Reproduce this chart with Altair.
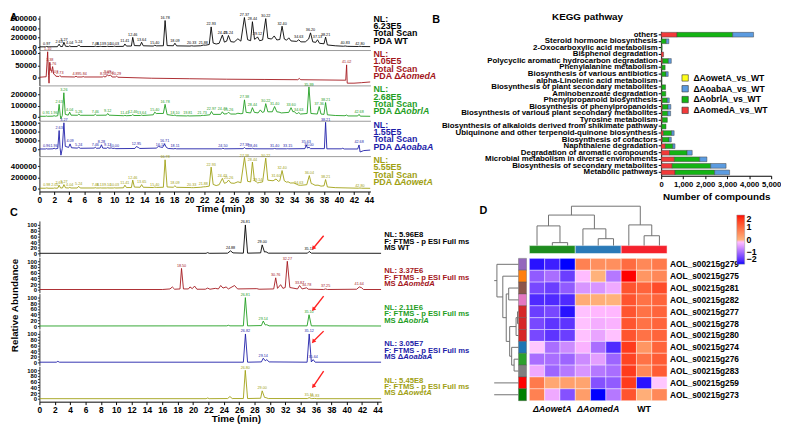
import altair as alt
import pandas as pd

FONT = "Liberation Sans"

# ---------------- strains ----------------
STRAIN_COLORS = ["#000000", "#a3161b", "#1f9e1f", "#1c1ca8", "#a0a012"]
STRAIN_GENES = [None, "AomedA", "AobrlA", "AoabaA", "AowetA"]

# ---------------- Panel A: PDA total scan, (time min, intensity in thousands) ----------------
A_WT = [(0,5),(0.8,6),(0.97,14),(1.15,6),(2.4,8),(2.63,62),(2.82,12),(3.08,12),(3.27,102),(3.48,18),(3.88,12),(4.04,26),(4.22,12),(5.05,12),(5.24,46),(5.45,12),(7.3,12),(7.46,20),(7.62,12),(7.98,12),(8.13,16),(8.3,12),(8.95,12),(9.10,17),(9.3,12),(9.88,13),(10.03,19),(10.2,13),(11.22,15),(11.41,66),(11.62,22),(12.28,22),(12.46,205),(12.68,32),(13.45,28),(13.64,102),(13.86,28),(15.2,22),(15.40,38),(15.62,26),(16.55,28),(16.78,560),(17.05,32),(17.88,28),(18.09,82),(18.32,26),(20.1,22),(20.33,28),(20.6,22),(21.55,28),(21.88,42),(22.2,40),(22.68,55),(22.93,425),(23.2,85),(23.6,65),(24.0,80),(24.43,255),(24.7,105),(25.0,125),(25.24,245),(25.55,115),(26.0,105),(26.5,175),(26.9,125),(27.37,623),(27.8,155),(28.2,135),(28.44,535),(28.72,165),(28.95,185),(29.12,215),(29.4,135),(29.8,150),(30.22,600),(30.5,185),(31.0,170),(31.35,235),(31.7,150),(32.1,160),(32.40,440),(32.7,170),(33.0,145),(33.3,195),(33.6,130),(34.35,120),(34.63,155),(34.9,110),(35.5,110),(35.95,170),(36.20,300),(36.5,110),(36.9,100),(37.13,155),(37.4,80),(38.0,70),(38.21,210),(38.45,45),(39.5,28),(40.6,18),(40.83,24),(41.1,16),(42.6,12),(42.80,17),(43.0,12),(44.2,10)]
A_MED = [(0,2),(0.9,4),(1.10,105),(1.22,10),(1.28,-22),(1.38,62),(1.5,30),(1.62,25),(1.76,45),(1.9,15),(2.03,13),(2.2,6),(2.6,5),(2.73,9),(2.9,4),(4.7,3),(4.89,6),(5.05,3),(5.7,3),(5.84,5),(6.0,3),(8.4,3),(8.56,6),(8.75,3),(8.95,6),(9.09,12),(9.25,8),(9.5,11),(9.7,3),(10.15,3),(10.29,7),(10.45,2),(15,-2),(20,-4),(25,-6),(30,-7),(34.5,-8),(34.7,-3),(34.9,-8),(38,-9),(40.9,-10),(41.02,52),(41.1,-22),(42,-22),(43,-20),(44.2,-17)]
A_BRL = [(0,5),(0.8,5),(0.91,8),(1.05,5),(1.8,6),(1.96,10),(2.15,6),(2.45,10),(2.63,112),(2.78,15),(2.86,-18),(3.05,12),(3.26,215),(3.45,22),(3.85,15),(4.04,42),(4.22,15),(5.08,14),(5.26,24),(5.45,14),(7.3,14),(7.46,24),(7.62,14),(8.95,15),(9.12,30),(9.3,15),(11.25,10),(11.41,13),(11.6,10),(12.3,12),(12.46,20),(12.62,12),(13.5,12),(13.64,16),(13.8,12),(15.2,18),(15.40,42),(15.6,30),(16.55,30),(16.78,112),(17.05,20),(17.9,12),(18.10,16),(18.3,10),(19.65,8),(19.81,10),(20.0,8),(21.55,10),(21.73,13),(21.9,12),(22.75,18),(22.97,48),(23.2,22),(24.2,22),(24.43,45),(24.65,25),(25.05,28),(25.26,42),(25.5,25),(26.2,25),(26.5,32),(26.9,28),(27.15,30),(27.38,152),(27.6,40),(28.2,35),(28.44,82),(28.7,40),(29.2,35),(29.5,62),(29.75,40),(30.0,45),(30.22,118),(30.5,45),(31.1,45),(31.40,92),(31.7,45),(32.0,42),(32.3,35),(33.3,40),(33.60,82),(33.85,45),(34.0,48),(34.3,30),(34.45,30),(34.63,38),(34.85,25),(35.75,30),(35.99,268),(36.25,30),(37.1,25),(37.36,92),(37.6,25),(38.0,22),(38.21,128),(38.45,18),(39.5,12),(40.8,10),(41.0,16),(41.2,8),(42.5,8),(42.68,22),(42.85,6),(44.2,5)]
A_ABA = [(0,3),(0.8,3),(0.96,5),(1.1,3),(1.8,4),(1.96,7),(2.15,4),(2.45,6),(2.63,108),(2.75,12),(2.87,-32),(3.05,6),(3.27,152),(3.45,18),(3.9,12),(4.09,32),(4.28,10),(5.05,8),(5.24,13),(5.45,7),(7.3,8),(7.46,13),(7.62,7),(8.1,8),(8.28,27),(8.45,8),(8.95,7),(9.12,12),(9.3,7),(9.6,9),(9.8,6),(10.0,7),(10.2,5),(12.75,6),(12.95,17),(13.19,12),(13.4,6),(15.6,8),(15.9,18),(16.17,14),(16.45,12),(16.71,32),(16.95,12),(17.2,6),(17.95,4),(18.11,6),(18.3,4),(24.3,4),(24.50,7),(24.7,4),(27.2,5),(27.38,11),(27.55,5),(28.3,5),(28.46,7),(28.65,4),(31.2,4),(31.4,6),(31.6,4),(33.0,4),(33.15,5),(33.3,4),(35.45,5),(35.63,26),(35.8,8),(36.0,13),(36.2,5),(38.05,5),(38.21,155),(38.38,4),(40.3,4),(40.5,7),(40.7,3),(42.5,3),(42.68,26),(42.82,-14),(43.3,-6),(44.2,-3)]
A_WET = [(0,8),(0.8,8),(0.98,13),(1.15,8),(1.9,8),(2.05,13),(2.2,8),(2.45,10),(2.63,62),(2.82,12),(3.08,12),(3.27,72),(3.48,15),(3.88,12),(4.04,22),(4.22,12),(5.05,12),(5.24,42),(5.45,12),(7.3,12),(7.46,17),(7.62,12),(7.98,12),(8.13,14),(8.3,12),(8.95,12),(9.10,14),(9.3,12),(9.88,12),(10.03,16),(10.2,12),(11.22,15),(11.41,62),(11.62,20),(12.28,20),(12.46,152),(12.68,28),(13.45,25),(13.65,72),(13.86,25),(15.2,20),(15.40,28),(15.62,22),(16.55,25),(16.78,512),(17.05,30),(17.88,25),(18.09,52),(18.32,24),(20.1,20),(20.33,18),(20.6,18),(21.55,25),(21.88,32),(22.2,35),(22.68,45),(22.93,382),(23.2,75),(23.6,55),(24.0,70),(24.43,182),(24.7,95),(25.0,110),(25.26,152),(25.55,100),(26.0,95),(26.5,122),(26.9,105),(27.38,555),(27.8,130),(28.2,120),(28.44,472),(28.72,140),(28.95,125),(29.14,102),(29.4,110),(29.8,120),(30.22,542),(30.5,150),(31.2,140),(31.60,172),(31.9,130),(32.1,140),(32.40,322),(32.7,140),(33.0,115),(33.2,122),(33.5,100),(34.0,102),(34.3,80),(34.63,62),(34.9,60),(35.7,70),(36.04,232),(36.3,90),(36.51,82),(36.8,60),(37.2,62),(37.6,45),(38.0,50),(38.21,162),(38.45,30),(39.5,18),(42.6,8),(42.80,12),(43.0,8),(44.2,6)]

A_WT_PEAKS = [0.97,2.63,3.27,4.04,5.24,7.46,8.13,9.10,10.03,11.41,12.46,13.64,15.40,16.78,18.09,20.33,21.88,22.93,24.43,25.24,27.37,28.44,29.12,30.22,32.40,34.63,36.20,37.13,38.21,40.83,42.80]
A_MED_PEAKS = [1.10,1.38,1.76,2.03,2.73,4.89,5.84,8.56,9.09,9.5,10.29,41.02]
A_BRL_PEAKS = [0.91,1.96,2.63,3.26,4.04,5.26,7.46,9.12,11.41,12.46,13.64,15.40,16.78,18.10,19.81,21.73,22.97,24.43,25.26,27.38,28.44,30.22,31.40,33.60,34.63,35.99,37.36,38.21,42.68]
A_ABA_PEAKS = [0.96,1.96,2.63,3.27,4.09,5.24,7.46,8.28,9.12,10.0,12.95,16.17,16.71,18.11,24.50,27.38,28.46,31.4,33.15,35.63,36.0,38.21,42.68]
A_WET_PEAKS = [0.98,2.05,2.63,3.27,4.04,5.24,7.46,8.13,9.10,10.03,11.41,12.46,13.65,15.40,16.78,18.09,20.33,21.88,22.93,24.43,25.26,27.38,28.44,29.14,30.22,31.60,32.40,34.63,36.04,38.21,42.80]

A_NL = ["6.23E5", "1.05E5", "2.68E5", "1.55E5", "5.55E5"]
A_YDOM = [(-62, 662), (-31, 108), (-35, 272), (-37.5, 158), (-50, 560)]
A_YTICKS = [[0, 200, 400, 600], [0, 50, 100], [0, 100, 200], [0, 50, 100, 150], [0, 200, 400]]

# ---------------- Panel C: extracted ion chromatograms (relative abundance %) ----------------
C_WT = [(0,0.5),(21.7,0.5),(21.9,3),(22.1,0.5),(24.5,1),(24.88,9),(25.2,2),(26.55,1),(26.81,100),(27.1,1),(28.8,2),(29.00,30),(29.3,5),(29.5,6),(29.8,1),(34.9,1),(35.12,7),(35.4,1),(44.5,0.5)]
C_MED = [(0,1),(16,1),(17.0,3),(17.3,10),(17.6,2),(18.3,3),(18.50,75),(18.75,3),(19.4,3),(19.6,10),(19.9,4),(20.2,13),(20.5,2),(21.6,2),(21.9,6),(22.2,2),(22.9,5),(23.3,3),(23.6,15),(23.9,6),(24.3,10),(24.6,3),(25.4,15),(25.8,3),(28.3,4),(28.6,2),(30.5,3),(30.76,42),(31.0,5),(31.4,18),(31.7,5),(32.0,8),(32.27,100),(32.6,8),(33.6,3),(33.87,15),(34.2,3),(34.78,7),(35.0,2),(37.0,1),(37.25,3),(37.5,1),(41.3,2),(41.64,10),(41.9,8),(42.2,1),(44.5,1)]
C_BRL = [(0,0.5),(24.4,1),(24.6,3),(24.8,1),(26.55,1),(26.81,100),(27.1,1),(28.9,2),(29.14,18),(29.4,4),(29.6,5),(29.9,1),(34.85,1),(35.10,40),(35.4,1),(44.5,0.5)]
C_ABA = [(0,1),(2.2,1),(2.4,4),(2.6,1),(26.55,1),(26.82,100),(27.1,1),(28.9,2),(29.14,15),(29.4,6),(29.6,10),(29.9,2),(34.85,1),(35.12,100),(35.4,2),(35.64,10),(35.9,1),(44.5,1)]
C_WET = [(0,0.5),(21.7,0.5),(21.9,3),(22.1,0.5),(24.5,1),(24.8,8),(25.1,1),(26.55,1),(26.80,100),(27.1,1),(28.8,2),(29.00,28),(29.3,5),(29.5,4),(29.8,1),(34.9,1),(35.11,4),(35.4,1),(35.6,1),(35.83,1.5),(36.1,0.5),(44.5,0.5)]

C_WT_PEAKS = [24.88, 26.81, 29.00, 35.12]
C_MED_PEAKS = [18.50, 30.76, 32.27, 33.87, 34.78, 37.25, 41.64]
C_BRL_PEAKS = [26.81, 29.14, 35.10]
C_ABA_PEAKS = [26.82, 29.14, 35.12, 35.64]
C_WET_PEAKS = [26.80, 29.00, 35.11, 35.83]

C_NL = ["5.96E8", "3.37E6", "2.11E6", "3.05E7", "5.45E8"]
# red arrows: (row, tail time, tail %, tip time, tip %)
C_ARROWS = [(0, 37.0, 62, 35.7, 20), (2, 37.0, 105, 35.7, 60), (3, 37.0, 110, 35.7, 75), (4, 37.0, 97, 35.7, 45)]

# ---------------- Panel B: KEGG pathway counts ----------------
KEGG_CATS = ["others", "Steroid hormone biosynthesis", "2-Oxocarboxylic acid metabolism",
             "Bisphenol degradation", "Polycyclic aromatic hydrocarbon degradation",
             "Phenylalanine metabolism", "Biosynthesis of various antibiotics",
             "alpha-Linolenic acid metabolism", "Biosynthesis of plant secondary metabolites",
             "Aminobenzoate degradation", "Phenylpropanoid biosynthesis",
             "Biosynthesis of phenylpropanoids", "Biosynthesis of various plant secondary metabolites",
             "Tyrosine metabolism", "Biosynthesis of alkaloids derived from shikimate pathway",
             "Ubiquinone and other terpenoid-quinone biosynthesis", "Biosynthesis of cofactors",
             "Naphthalene degradation", "Degradation of aromatic compounds",
             "Microbial metabolism in diverse environments", "Biosynthesis of secondary metabolites",
             "Metabolic pathways"]
KEGG_MED = [720, 0, 0, 110, 70, 30, 20, 0, 20, 20, 50, 60, 50, 50, 20, 100, 60, 190, 380, 600, 500, 630]
KEGG_BRL = [2530, 230, 40, 0, 260, 150, 200, 20, 180, 190, 230, 250, 250, 230, 200, 380, 300, 340, 800, 1150, 1750, 1800]
KEGG_ABA = [950, 120, 0, 0, 130, 0, 100, 0, 0, 0, 90, 130, 130, 0, 0, 110, 100, 100, 230, 330, 700, 680]
KEGG_WET = [0] * 22
KEGG_SERIES = ["ΔAowetA_vs_WT", "ΔAoabaA_vs_WT", "ΔAobrlA_vs_WT", "ΔAomedA_vs_WT"]
KEGG_COLORS = ["#ffff1a", "#5b9be0", "#14b414", "#f23a3a"]

# ---------------- Panel D: heatmap (z-scores) ----------------
HEAT_ROWS = ["AOL_s00215g279", "AOL_s00215g275", "AOL_s00215g281", "AOL_s00215g282",
             "AOL_s00215g277", "AOL_s00215g278", "AOL_s00215g280", "AOL_s00215g274",
             "AOL_s00215g276", "AOL_s00215g283", "AOL_s00215g259", "AOL_s00215g273"]
HEAT_VALS = [
    [-1.9, -1.8, -2.0, 0.7, 0.5, 0.5, 1.0, 0.6, 0.8],
    [-1.2, -1.0, -1.5, -0.2, 0.0, -0.9, 2.0, 0.4, 0.6],
    [-1.4, -1.5, -1.2, -0.6, -0.6, -0.4, 1.3, 1.1, 1.4],
    [-1.7, -1.7, -1.7, 0.1, 0.05, 0.0, 1.3, 0.9, 1.1],
    [-1.5, -1.4, -1.9, -0.15, -0.25, -0.25, 1.3, 0.9, 1.1],
    [-1.4, -1.6, -1.6, -0.15, -0.35, -0.3, 1.3, 0.9, 1.1],
    [-1.4, -1.6, -1.5, -0.15, -0.45, -0.15, 1.3, 0.9, 1.1],
    [-0.1, -1.0, -0.7, -0.3, -1.0, -1.7, 1.6, 0.4, 1.1],
    [-1.0, -1.0, -1.1, -0.7, -0.5, -1.1, 1.5, 0.9, 1.2],
    [-0.4, -1.1, -0.9, -0.6, -0.9, -1.0, 1.6, 0.6, 1.2],
    [0.8, 0.15, 0.25, 0.2, -1.3, -1.2, 1.6, -1.9, -0.1],
    [0.7, -0.4, -1.3, 0.3, -2.1, -0.9, 1.3, 0.05, 0.6],
]
HEAT_GROUPS = [("ΔAowetA", 3, "#1e8c1e"), ("ΔAomedA", 3, "#2a7ab8"), ("WT", 3, "#f5222d")]
ROW_CLUSTER_COLORS = ["#9467bd", "#ff7f0e", "#8c564b", "#e377c2", "#d62728", "#d62728",
                      "#d62728", "#1f77b4", "#2ca02c", "#7f7f7f", "#ff0000", "#008000"]
# linkage (name, child a, child b, distance)
COL_LINKAGE = [("m0", 1, 2, 0.3), ("m1", 0, "m0", 2.0), ("m2", 4, 5, 0.7), ("m3", 3, "m2", 1.7),
               ("m4", "m1", "m3", 3.1), ("m5", 7, 8, 1.0), ("m6", 6, "m5", 2.1), ("m7", "m4", "m6", 4.0)]
ROW_LINKAGE = [("n1", 4, 5, 0.1), ("n2", "n1", 6, 0.25), ("n3", 8, 9, 0.45), ("n4", 7, "n3", 0.7),
               ("n5", "n2", "n4", 0.9), ("n6", 2, 3, 1.0), ("n7", "n6", "n5", 1.25),
               ("n8", 1, "n7", 1.6), ("n9", 0, "n8", 2.2), ("n10", 10, 11, 3.2), ("root", "n9", "n10", 3.8)]

DUMMY = pd.DataFrame({"a": [0]})


def txt(text, x, y, size, color="#000", weight="bold", style="normal", align="left",
        baseline="middle", angle=0):
    return alt.Chart(DUMMY).mark_text(
        align=align, baseline=baseline, fontSize=size, fontWeight=weight, fontStyle=style,
        color=color, font=FONT, angle=angle
    ).encode(x=alt.value(x), y=alt.value(y), text=alt.value(text))


def anchor(px, py):
    # white (invisible on the white page) layout anchor that fixes a column's outer bounds
    return alt.Chart(DUMMY).mark_rule(color="white", strokeWidth=0.5).encode(
        x=alt.value(px), x2=alt.value(px), y=alt.value(py), y2=alt.value(py + 1))


def chrom_row(pairs, peaks, color, mult, ydom, yaxis, xdom, xaxis, extra):
    xs = alt.Scale(domain=list(xdom), nice=False, zero=False)
    ysc = alt.Scale(domain=[ydom[0] * mult, ydom[1] * mult], nice=False, zero=False)
    df = pd.DataFrame({"t": [p[0] for p in pairs], "v": [p[1] * mult for p in pairs]})
    look = {p[0]: p[1] * mult for p in pairs}
    pk = pd.DataFrame({"t": peaks, "v": [min(look[t], ydom[1] * mult * 0.97) for t in peaks],
                       "lab": [f"{t:.2f}" for t in peaks]})
    X = lambda f: alt.X(f, scale=xs, axis=xaxis)
    Y = lambda f: alt.Y(f, scale=ysc, axis=yaxis)
    line = alt.Chart(df).mark_line(color=color, strokeWidth=0.9, clip=True).encode(x=X("t:Q"), y=Y("v:Q"))
    lab = alt.Chart(pk).mark_text(fontSize=3.8, baseline="bottom", dy=-0.5, color=color, font=FONT).encode(
        x=X("t:Q"), y=Y("v:Q"), text="lab:N")
    layers = [line, lab]
    for e in extra:
        layers.append(e(X, Y))
    return layers


def bottom_axis(title_x):
    return alt.Axis(values=list(range(0, 45, 2)), labelFontSize=8.5, labelFontWeight="bold",
                    labelColor="#000", tickSize=3, labelPadding=1, labelFlush=False,
                    labelOverlap=False, title="Time (min)", titleFontSize=10,
                    titleFontWeight="bold", titlePadding=0, titleX=title_x,
                    domainColor="#000", tickColor="#000", grid=False)


# ---------------- build panel A ----------------
A_W, A_H, A_XDOM = 337, 35, (0, 44.2)
A_TRACES = [A_WT, A_MED, A_BRL, A_ABA, A_WET]
A_PEAKS = [A_WT_PEAKS, A_MED_PEAKS, A_BRL_PEAKS, A_ABA_PEAKS, A_WET_PEAKS]
a_rows = []
for i in range(5):
    yaxis = alt.Axis(values=[v * 1000 for v in A_YTICKS[i]], format="d", labelFontSize=8,
                     labelFontWeight="bold", labelColor="#000", tickSize=2, labelPadding=1,
                     labelOverlap=False, title=None, domainColor="#222", tickColor="#222", grid=False)
    if i < 4:
        xaxis = alt.Axis(labels=False, ticks=False, title=None, domainColor="#9a9a9a", grid=False)
    else:
        xaxis = bottom_axis(184)
    layers = chrom_row(A_TRACES[i], A_PEAKS[i], STRAIN_COLORS[i], 1000, A_YDOM[i], yaxis,
                       A_XDOM, xaxis, [])
    c = STRAIN_COLORS[i]
    x0 = A_W + 3
    layers += [txt("NL:", x0, 3, 9, c), txt(A_NL[i], x0, 10.5, 9, c), txt("Total Scan", x0, 18, 9, c)]
    if STRAIN_GENES[i] is None:
        layers.append(txt("PDA WT", x0, 25.5, 9, c))
    else:
        layers += [txt("PDA Δ", x0, 25.5, 9, c), txt(STRAIN_GENES[i], x0 + 27, 25.5, 9, c, style="italic")]
    if i == 0:
        layers += [anchor(-31, -3), anchor(455, -3), txt("A", -30, -3, 10.5, baseline="top")]
    a_rows.append(alt.layer(*layers).properties(width=A_W, height=A_H))

# ---------------- build panel C ----------------
C_W, C_H, C_XDOM = 348, 36, (0, 44.5)
C_TRACES = [C_WT, C_MED, C_BRL, C_ABA, C_WET]
C_PEAKS = [C_WT_PEAKS, C_MED_PEAKS, C_BRL_PEAKS, C_ABA_PEAKS, C_WET_PEAKS]
c_rows = []
for i in range(5):
    yaxis = alt.Axis(values=list(range(0, 101, 10)), labelExpr="datum.value % 20 == 0 ? datum.label : ''",
                     labelFontSize=6, labelFontWeight="bold", labelColor="#000", tickSize=2,
                     labelPadding=1, labelOverlap=False, title=None, domainColor="#333",
                     tickColor="#333", grid=False)
    if i < 4:
        xaxis = alt.Axis(labels=False, ticks=False, domain=False, title=None, grid=False)
    else:
        xaxis = bottom_axis(200)
    extra = []
    for (r, t1, v1, t2, v2) in C_ARROWS:
        if r == i:
            adf = pd.DataFrame({"t1": [t1], "v1": [v1], "t2": [t2], "v2": [v2]})
            extra.append(lambda X, Y, adf=adf: alt.Chart(adf).mark_rule(color="#ff2020", strokeWidth=1.4).encode(
                x=X("t1:Q"), x2="t2:Q", y=Y("v1:Q"), y2="v2:Q"))
            extra.append(lambda X, Y, adf=adf: alt.Chart(adf).mark_point(
                shape="triangle", filled=True, size=22, angle=220, color="#ff2020", opacity=1).encode(
                x=X("t2:Q"), y=Y("v2:Q")))
    layers = chrom_row(C_TRACES[i], C_PEAKS[i], STRAIN_COLORS[i], 1, (-10, 114), yaxis,
                       C_XDOM, xaxis, extra)
    c = STRAIN_COLORS[i]
    x0 = C_W + 3
    layers += [txt("NL: " + C_NL[i], x0, 14.5, 7.8, c), txt("F: FTMS - p ESI Full ms", x0, 21, 7.8, c)]
    if STRAIN_GENES[i] is None:
        layers.append(txt("MS WT", x0, 27.5, 7.8, c))
    else:
        layers += [txt("MS Δ", x0, 27.5, 7.8, c), txt(STRAIN_GENES[i], x0 + 19.5, 27.5, 7.8, c, style="italic")]
    if i == 0:
        layers.append(txt("C", -30, -14, 11, baseline="top"))
    if i == 2:
        layers.append(txt("Relative Abundance", -25, 12, 10, align="center", angle=270))
    c_rows.append(alt.layer(*layers).properties(width=C_W, height=C_H))

# ---------------- build panel B ----------------
b_records = []
for j, cat in enumerate(KEGG_CATS):
    for s, vals, o in [(KEGG_SERIES[3], KEGG_MED, 0), (KEGG_SERIES[2], KEGG_BRL, 1),
                       (KEGG_SERIES[1], KEGG_ABA, 2), (KEGG_SERIES[0], KEGG_WET, 3)]:
        if vals[j] > 0:
            b_records.append({"cat": cat, "series": s, "value": vals[j], "ord": o})
b_df = pd.DataFrame(b_records)
B_W, B_H = 282, 177          # plot box shared with panel D's left edge
B_X0, B_BAND = 170, 147      # bars start 170 px right of the box; band area 147 px tall
b_bars = alt.Chart(b_df).mark_bar(stroke="#444", strokeWidth=0.5).encode(
    y=alt.Y("cat:N", sort=KEGG_CATS,
            scale=alt.Scale(range=[0, B_BAND], paddingInner=0.28, paddingOuter=0.15),
            axis=alt.Axis(title=None, labelFontSize=8, labelFontWeight="bold", labelColor="#000",
                          labelLimit=400, labelOverlap=False, tickSize=3, labelPadding=1,
                          offset=-B_X0, domainColor="#000", tickColor="#000", grid=False)),
    x=alt.X("value:Q", stack="zero", scale=alt.Scale(domain=[0, 5000], range=[B_X0, B_W], nice=False),
            axis=alt.Axis(values=[0, 1000, 2000, 3000, 4000, 5000], title="Number of compounds",
                          labelFontSize=7.8, labelFontWeight="bold", labelColor="#000",
                          labelOverlap=False, titleFontSize=10, titleFontWeight="bold", tickSize=3,
                          labelFlush=False, titlePadding=3, offset=-(B_H - B_BAND),
                          domainColor="#000", tickColor="#000", grid=False)),
    color=alt.Color("series:N", scale=alt.Scale(domain=KEGG_SERIES, range=KEGG_COLORS),
                    legend=alt.Legend(orient="none", legendX=190, legendY=43, title=None,
                                      symbolType="square", symbolSize=42, labelFontSize=8.8,
                                      labelFontWeight="bold", labelFont=FONT, rowPadding=0,
                                      symbolStrokeColor="#333", symbolStrokeWidth=0.6)),
    order=alt.Order("ord:Q"),
)
b_chart = alt.layer(
    b_bars,
    txt("KEGG pathway", 95, -15, 10, align="center"),
    txt("B", -63, -18, 11, baseline="top"),
).properties(width=B_W, height=B_H)

# ---------------- build panel D ----------------
XS = alt.Scale(domain=[-2.3, 9], nice=False, zero=False)
YS = alt.Scale(domain=[-4.4, 12], nice=False, zero=False, reverse=True)

heat_df = pd.DataFrame([{"x1": c, "x2": c + 1, "y1": r, "y2": r + 1, "val": v}
                        for r, row in enumerate(HEAT_VALS) for c, v in enumerate(row)])
heat = alt.Chart(heat_df).mark_rect(stroke="white", strokeWidth=0.4).encode(
    x=alt.X("x1:Q", scale=XS, axis=None), x2="x2:Q",
    y=alt.Y("y1:Q", scale=YS, axis=None), y2="y2:Q",
    color=alt.Color("val:Q", scale=alt.Scale(domain=[-2, 0, 2], range=["#0000ff", "#ffffff", "#ff0000"], clamp=True),
                    legend=alt.Legend(orient="none", legendX=247, legendY=9, direction="vertical",
                                      gradientLength=50, gradientThickness=8, values=[-2, -1, 0, 1, 2],
                                      labelFontSize=9, labelFontWeight="bold", labelFont=FONT,
                                      labelOverlap=False, gradientStrokeColor="#999",
                                      gradientStrokeWidth=0.5, title=None)),
)

grp_rows, start = [], 0
for name, n, col in HEAT_GROUPS:
    grp_rows.append({"x1": start, "x2": start + n, "y1": -1.08, "y2": -0.41, "fill": col,
                     "name": name, "cx": start + n / 2})
    start += n
grp_df = pd.DataFrame(grp_rows)
top_bar = alt.Chart(grp_df).mark_rect(stroke="white", strokeWidth=0.5).encode(
    x=alt.X("x1:Q", scale=XS, axis=None), x2="x2:Q",
    y=alt.Y("y1:Q", scale=YS, axis=None), y2="y2:Q", fill=alt.Fill("fill:N", scale=None))

strip_df = pd.DataFrame([{"x1": -0.71, "x2": -0.19, "y1": r, "y2": r + 1, "fill": c}
                         for r, c in enumerate(ROW_CLUSTER_COLORS)])
left_strip = alt.Chart(strip_df).mark_rect(stroke="#555", strokeWidth=0.4).encode(
    x=alt.X("x1:Q", scale=XS, axis=None), x2="x2:Q",
    y=alt.Y("y1:Q", scale=YS, axis=None), y2="y2:Q", fill=alt.Fill("fill:N", scale=None))


def dendro_segments(linkage, n_leaves):
    pos = {k: k + 0.5 for k in range(n_leaves)}
    hgt = {k: 0.0 for k in range(n_leaves)}
    segs = []
    for name, a, b, h in linkage:
        for ch in (a, b):
            segs.append((pos[ch], hgt[ch], pos[ch], h))
        segs.append((pos[a], h, pos[b], h))
        pos[name] = (pos[a] + pos[b]) / 2
        hgt[name] = h
    return segs


KT, KL = 0.83, 0.642
top_segs = pd.DataFrame([{"x": p1, "y": -1.08 - h1 * KT, "x2": p2, "y2": -1.08 - h2 * KT}
                         for p1, h1, p2, h2 in dendro_segments(COL_LINKAGE, 9)])
left_segs = pd.DataFrame([{"y": p1, "x": -0.71 - h1 * KL, "y2": p2, "x2": -0.71 - h2 * KL}
                          for p1, h1, p2, h2 in dendro_segments(ROW_LINKAGE, 12)])
top_dendro = alt.Chart(top_segs).mark_rule(color="#707070", strokeWidth=1).encode(
    x=alt.X("x:Q", scale=XS, axis=None), x2="x2:Q", y=alt.Y("y:Q", scale=YS, axis=None), y2="y2:Q")
left_dendro = alt.Chart(left_segs).mark_rule(color="#707070", strokeWidth=1, clip=True).encode(
    x=alt.X("x:Q", scale=XS, axis=None), x2="x2:Q", y=alt.Y("y:Q", scale=YS, axis=None), y2="y2:Q")

rowlab_df = pd.DataFrame({"lx": [9] * len(HEAT_ROWS), "ly": [r + 0.5 for r in range(len(HEAT_ROWS))],
                          "lab": HEAT_ROWS})
row_labels = alt.Chart(rowlab_df).mark_text(align="left", baseline="middle", dx=3, fontSize=8.5,
                                            fontWeight="bold", font=FONT, color="#000").encode(
    x=alt.X("lx:Q", scale=XS, axis=None), y=alt.Y("ly:Q", scale=YS, axis=None), text="lab:N")
collab_df = grp_df.assign(ly=12.7, ital=[n != "WT" for n in grp_df["name"]])
col_lab_it = alt.Chart(collab_df[collab_df.ital]).mark_text(
    align="center", baseline="middle", fontSize=9, fontWeight="bold", fontStyle="italic", font=FONT,
    color="#000").encode(x=alt.X("cx:Q", scale=XS, axis=None), y=alt.Y("ly:Q", scale=YS, axis=None), text="name:N")
col_lab_n = alt.Chart(collab_df[~collab_df.ital]).mark_text(
    align="center", baseline="middle", fontSize=9, fontWeight="bold", font=FONT,
    color="#000").encode(x=alt.X("cx:Q", scale=XS, axis=None), y=alt.Y("ly:Q", scale=YS, axis=None), text="name:N")

d_chart = alt.layer(
    heat, top_bar, left_strip, top_dendro, left_dendro, row_labels, col_lab_it, col_lab_n,
    txt("D", -15, -1, 11, baseline="top"),
).properties(width=176, height=198)

# ---------------- assemble ----------------
def spacer(w, h, *extra):
    base = alt.Chart(DUMMY).mark_point(opacity=0).encode(
        x=alt.X("a:Q", axis=None), y=alt.Y("a:Q", axis=None))
    return alt.layer(base, *extra).properties(width=w, height=h)


left = alt.vconcat(*a_rows, spacer(1, 28), *c_rows, spacing=1, bounds="flush")
right = alt.vconcat(spacer(1, 15, anchor(-80, -3)), b_chart, d_chart, spacing=1, bounds="flush")

chart = alt.hconcat(left, right, spacing=-74).properties(
    padding=0, background="white"
).configure_view(stroke=None).configure_axis(
    labelFont=FONT, titleFont=FONT, grid=False
).configure_legend(labelFont=FONT, titleFont=FONT)

chart.save("out.html", embed_options={"renderer": "svg", "actions": False})
